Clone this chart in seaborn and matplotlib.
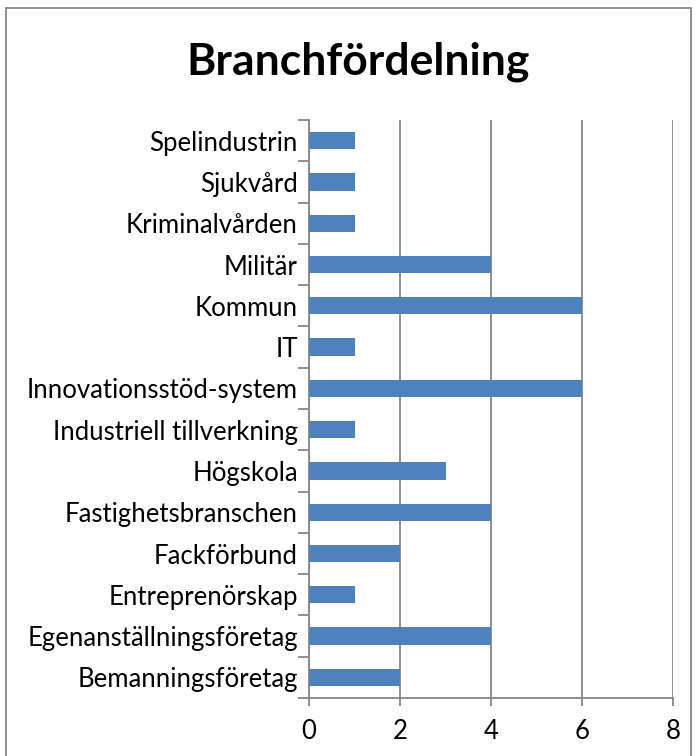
import matplotlib
matplotlib.use("Agg")
import pandas as pd
from matplotlib import pyplot as plt
from matplotlib.patches import Rectangle
import seaborn as sns

grey = "#878787"
sns.set_style("white", {"xtick.bottom": True, "ytick.left": True,
                        "xtick.color": grey, "ytick.color": grey})
plt.rcParams['font.family'] = ['Lato', 'DejaVu Sans']

# Data, top to bottom as in the chart
branches = ["Spelindustrin", "Sjukvård", "Kriminalvården", "Militär", "Kommun", "IT",
            "Innovationsstöd-system", "Industriell tillverkning", "Högskola",
            "Fastighetsbranschen", "Fackförbund", "Entreprenörskap",
            "Egenanställningsföretag", "Bemanningsföretag"]
counts = [1, 1, 1, 4, 6, 1, 6, 1, 3, 4, 2, 1, 4, 2]
xticks = [0, 2, 4, 6, 8]

df = pd.DataFrame({"bransch": branches, "antal": counts})

fig = plt.figure(figsize=(6.99, 7.56), dpi=100)
ax = fig.add_axes([309 / 699, 58 / 756, 364 / 699, 578 / 756])

sns.barplot(data=df, x="antal", y="bransch", color="#4F81BD", saturation=1,
            width=0.42, linewidth=0, ax=ax, zorder=3)

ax.set_xlim(0, 8)
ax.set_ylim(len(branches) - 0.5, -0.5)
ax.set_xticks(xticks)
ax.set_xticklabels([str(t) for t in xticks], fontsize=18.5)
ax.set_yticks(range(len(branches)))
ax.set_yticklabels(branches, fontsize=18.5)
ax.tick_params(axis="y", which="major", left=False, length=0, pad=8,
               labelcolor="black")
ax.tick_params(axis="x", which="major", bottom=True, direction="out",
               length=6, width=1.3, color=grey, pad=9, labelcolor="black")
# category boundary ticks like Excel
ax.set_yticks([i - 0.5 for i in range(len(branches) + 1)], minor=True)
ax.tick_params(axis="y", which="minor", left=True, direction="out",
               length=8, width=1.3, color=grey)
ax.set_xlabel("")
ax.set_ylabel("")
ax.xaxis.grid(True, color=grey, linewidth=1.3, zorder=0)
ax.yaxis.grid(False)
for s in ["top", "right"]:
    ax.spines[s].set_visible(False)
for s in ["left", "bottom"]:
    ax.spines[s].set_color(grey)
    ax.spines[s].set_linewidth(1.3)

fig.text(358 / 699, 1 - 62 / 756, "Branchfördelning", ha="center", va="center",
         fontsize=32, fontweight="bold", color="black")

fig.patches.append(Rectangle((6 / 699, -0.05), 685 / 699, 1.05 - 8 / 756,
                             transform=fig.transFigure, fill=False,
                             edgecolor=grey, linewidth=1.3))

fig.savefig("out.png", dpi=100)
